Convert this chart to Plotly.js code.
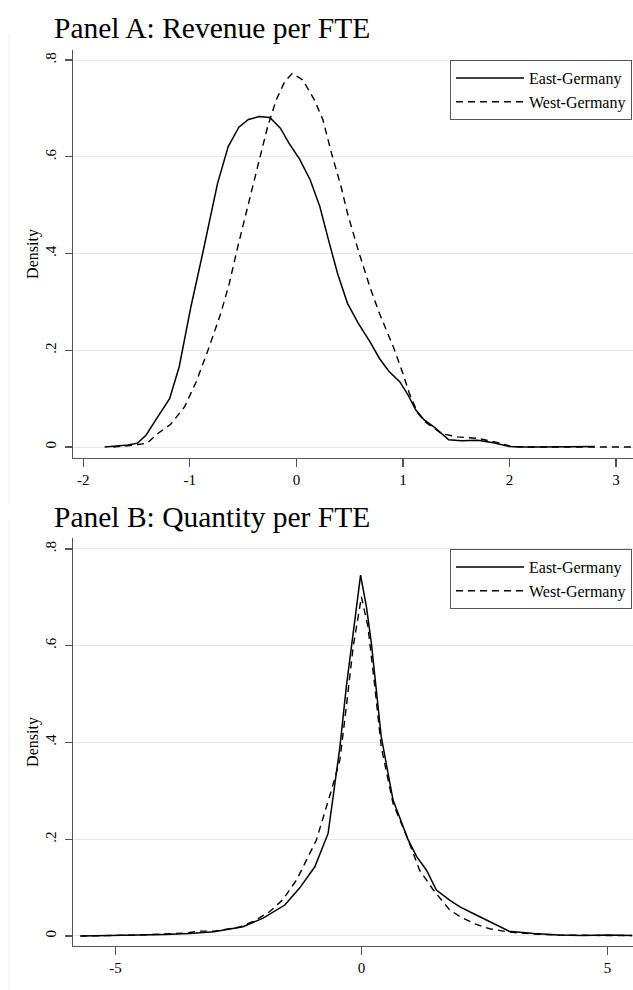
<!DOCTYPE html>
<html>
<head>
<meta charset="utf-8">
<script src="https://cdn.plot.ly/plotly-3.0.1.min.js"></script>
<style>html,body{margin:0;padding:0;background:#fff;}#chart{width:633px;height:990px;}</style>
</head>
<body>
<div id="chart"></div>
<script>
// ---------- data ----------
const panelTitles = ["Panel A: Revenue per FTE", "Panel B: Quantity per FTE"];
const seriesNames = ["East-Germany", "West-Germany"];
const yTickVals = [0, 0.2, 0.4, 0.6, 0.8];
const yTickText = ["0", ".2", ".4", ".6", ".8"];
const xTicksA = [-2, -1, 0, 1, 2, 3];
const xTickTextA = ["-2", "-1", "0", "1", "2", "3"];
const xTicksB = [-5, 0, 5];
const xTickTextB = ["-5", "0", "5"];

// Panel A: Revenue per FTE
const eastAx = [-1.80,-1.70,-1.58,-1.49,-1.41,-1.32,-1.19,-1.10,-0.99,-0.88,-0.82,-0.74,-0.64,-0.54,-0.45,-0.35,-0.25,-0.15,-0.07,0.03,0.13,0.22,0.31,0.39,0.48,0.58,0.69,0.78,0.87,0.97,1.05,1.12,1.20,1.30,1.43,1.55,1.70,1.85,2.00,2.10,2.30,2.50,2.70,2.80];
const eastAy = [0.000,0.002,0.004,0.008,0.025,0.056,0.100,0.166,0.290,0.400,0.462,0.545,0.621,0.661,0.677,0.683,0.681,0.659,0.628,0.595,0.552,0.497,0.421,0.356,0.297,0.256,0.218,0.183,0.156,0.135,0.107,0.077,0.056,0.040,0.015,0.013,0.014,0.009,0.001,0.000,0.000,0.001,0.002,0.001];
const westAx = [-1.72,-1.60,-1.52,-1.40,-1.30,-1.18,-1.05,-0.94,-0.83,-0.71,-0.63,-0.55,-0.46,-0.36,-0.27,-0.19,-0.11,-0.04,0.06,0.17,0.25,0.33,0.42,0.48,0.59,0.69,0.78,0.91,1.00,1.06,1.14,1.21,1.36,1.51,1.70,1.89,2.02,2.20,2.50,2.80,3.00,3.20];
const westAy = [0.000,0.002,0.004,0.008,0.028,0.047,0.083,0.135,0.200,0.276,0.338,0.414,0.497,0.583,0.662,0.717,0.755,0.772,0.759,0.717,0.676,0.607,0.538,0.483,0.400,0.331,0.276,0.207,0.152,0.111,0.070,0.052,0.028,0.021,0.018,0.009,0.001,0.000,0.000,0.000,0.000,0.000];

// Panel B: Quantity per FTE
const eastBx = [-5.70,-5.00,-4.50,-4.00,-3.50,-3.00,-2.41,-2.00,-1.56,-1.26,-0.95,-0.68,-0.55,-0.44,-0.31,-0.16,-0.02,0.10,0.20,0.40,0.64,0.95,1.12,1.32,1.52,1.79,2.00,2.30,2.60,3.00,3.50,4.00,4.50,5.00,5.50];
const eastBy = [0.000,0.001,0.001,0.003,0.005,0.009,0.019,0.037,0.064,0.099,0.143,0.212,0.309,0.391,0.515,0.633,0.746,0.680,0.605,0.412,0.281,0.198,0.164,0.136,0.095,0.074,0.060,0.045,0.030,0.010,0.005,0.002,0.001,0.002,0.001];
const westBx = [-5.72,-5.00,-4.50,-4.00,-3.60,-3.30,-3.00,-2.50,-2.20,-1.87,-1.60,-1.32,-0.92,-0.61,-0.44,-0.31,-0.17,-0.003,0.13,0.27,0.40,0.64,0.95,1.18,1.46,1.79,2.00,2.30,2.60,3.00,3.50,4.00,4.50,5.00,5.50];
const westBy = [0.000,0.001,0.002,0.004,0.006,0.010,0.010,0.018,0.030,0.050,0.075,0.116,0.198,0.302,0.364,0.474,0.598,0.701,0.639,0.515,0.391,0.274,0.198,0.136,0.095,0.054,0.040,0.025,0.015,0.008,0.004,0.002,0.001,0.001,0.001];

// ---------- chart ----------
const FONT = "Liberation Serif, Times New Roman, serif";
const W = 633, H = 990;
const px = v => v / W;
const py = v => (H - v) / H;

const solid = {color: "#000", width: 1.5};
const dashed = {color: "#000", width: 1.4, dash: "7px,5px"};

const traces = [
  {x: eastAx, y: eastAy, xaxis: "x", yaxis: "y", mode: "lines", name: seriesNames[0], line: solid, legend: "legend"},
  {x: westAx, y: westAy, xaxis: "x", yaxis: "y", mode: "lines", name: seriesNames[1], line: dashed, legend: "legend"},
  {x: eastBx, y: eastBy, xaxis: "x2", yaxis: "y2", mode: "lines", name: seriesNames[0], line: solid, legend: "legend2"},
  {x: westBx, y: westBy, xaxis: "x2", yaxis: "y2", mode: "lines", name: seriesNames[1], line: dashed, legend: "legend2"}
];

const tickFont = {family: FONT, size: 15, color: "#000"};
function xAxis(anchor, range, ticks, text) {
  return {
    anchor: anchor, domain: [px(73), 1], range: range, tickvals: ticks, ticktext: text,
    showline: true, linecolor: "#555", linewidth: 1.3, ticks: "outside", ticklen: 8, tickcolor: "#555", tickwidth: 1.2,
    showgrid: false, zeroline: false, tickfont: tickFont, fixedrange: true, automargin: false
  };
}
function yAxis(anchor, domain, range) {
  return {
    anchor: anchor, domain: domain, range: range, tickvals: yTickVals, ticktext: yTickText, tickangle: -90,
    showline: true, linecolor: "#555", linewidth: 1.3, ticks: "outside", ticklen: 7, tickcolor: "#555", tickwidth: 1.2,
    showgrid: true, gridcolor: "#e8e8e8", gridwidth: 1, zeroline: false, tickfont: tickFont, ticklabelstandoff: 3,
    title: {text: "Density", font: {family: FONT, size: 16, color: "#000"}, standoff: 0}, fixedrange: true, automargin: false
  };
}
const legendBase = {
  xanchor: "left", yanchor: "top", bgcolor: "#fff", bordercolor: "#555", borderwidth: 1,
  font: {family: FONT, size: 16, color: "#000"}, itemwidth: 68, traceorder: "normal", tracegroupgap: 0
};

const layout = {
  width: W, height: H,
  margin: {l: 0, r: 0, t: 0, b: 0, autoexpand: false},
  paper_bgcolor: "#fff", plot_bgcolor: "#fff",
  showlegend: true,
  xaxis: xAxis("y", [-2.097, 3.16], xTicksA, xTickTextA),
  yaxis: yAxis("x", [py(458), py(50)], [-0.0227, 0.8207]),
  xaxis2: xAxis("y2", [-5.865, 5.517], xTicksB, xTickTextB),
  yaxis2: yAxis("x2", [py(946), py(538)], [-0.0207, 0.8227]),
  legend: Object.assign({x: px(450), y: py(60)}, legendBase),
  legend2: Object.assign({x: px(450), y: py(549)}, legendBase),
  annotations: [
    {text: panelTitles[0], xref: "paper", yref: "paper", x: px(52), y: py(28), xanchor: "left", yanchor: "middle", showarrow: false, font: {family: FONT, size: 29.5, color: "#000"}},
    {text: panelTitles[1], xref: "paper", yref: "paper", x: px(52), y: py(517), xanchor: "left", yanchor: "middle", showarrow: false, font: {family: FONT, size: 29.5, color: "#000"}}
  ],
  shapes: [
    {type: "line", xref: "paper", yref: "paper", x0: px(9), x1: px(9), y0: py(34), y1: py(503), line: {color: "#eeeeee", width: 1}},
    {type: "line", xref: "paper", yref: "paper", x0: px(9), x1: px(9), y0: py(520), y1: py(990), line: {color: "#eeeeee", width: 1}}
  ]
};

Plotly.newPlot("chart", traces, layout, {staticPlot: true, displayModeBar: false});
</script>
</body>
</html>
